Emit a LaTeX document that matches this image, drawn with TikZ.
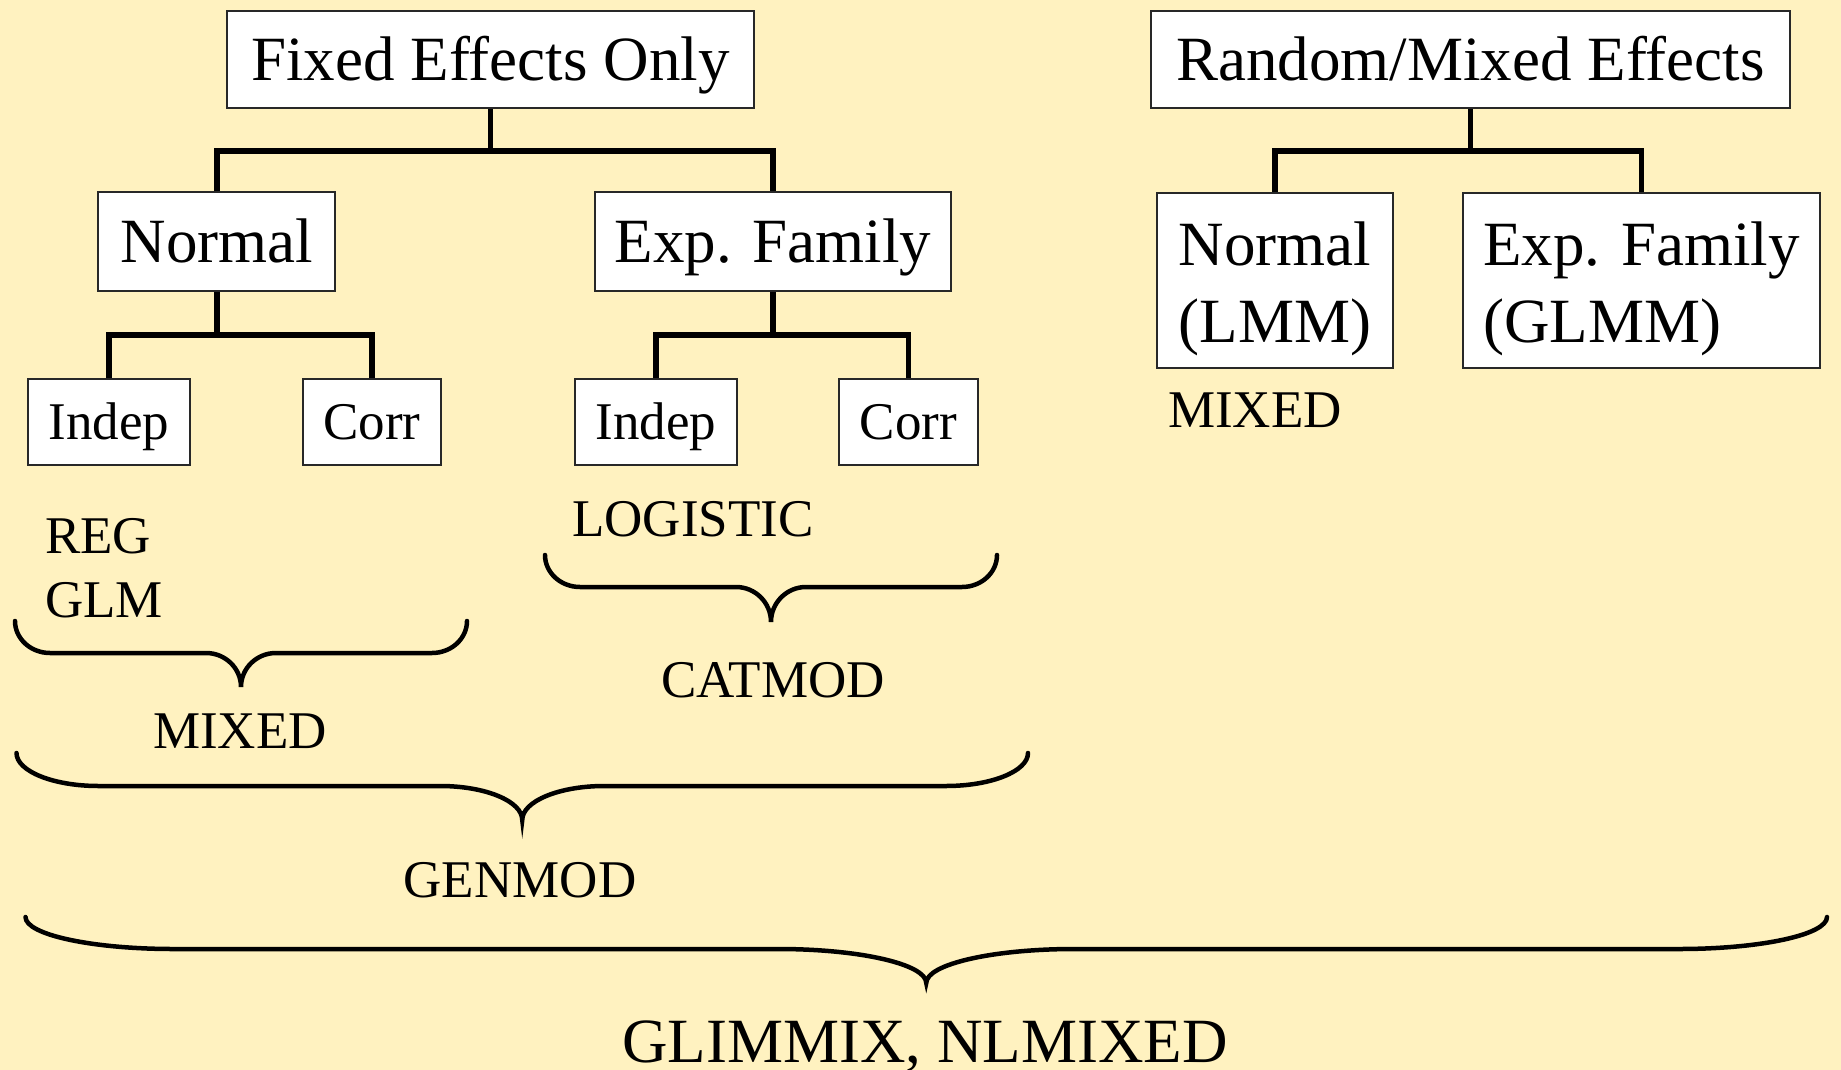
\documentclass[tikz,border=0pt]{standalone}
\usepackage{fontspec}
\setmainfont{Liberation Serif}
\definecolor{bgcol}{RGB}{255,242,192}
\definecolor{boxline}{RGB}{40,40,40}
\newcommand\bigfs{\fontsize{63}{77}\selectfont}
\newcommand\smallfs{\fontsize{53}{64}\selectfont}
% #1 x1, #2 x2, #3 ytop, #4 yh, #5 ytip, #6 curl width
\newcommand\curlybrace[6]{%
  \pgfmathsetmacro\cbxm{(#1+#2)/2}%
  \pgfmathsetmacro\cbk{0.552*#6}%
  \pgfmathsetmacro\cbhk{0.552*(#4-#3)}%
  \pgfmathsetmacro\cbtk{0.552*(#5-#4)}%
  \draw[bracestyle] (#1,#3) .. controls (#1,#3+\cbhk) and (#1+#6-\cbk,#4) .. (#1+#6,#4)
    -- (\cbxm-#6,#4) .. controls (\cbxm-#6+\cbk,#4) and (\cbxm,#5-\cbtk) .. (\cbxm,#5)
    .. controls (\cbxm,#5-\cbtk) and (\cbxm+#6-\cbk,#4) .. (\cbxm+#6,#4)
    -- (#2-#6,#4) .. controls (#2-#6+\cbk,#4) and (#2,#3+\cbhk) .. (#2,#3);
}
\begin{document}
\begin{tikzpicture}[x=1pt,y=-1pt,
  bigbox/.style={draw=boxline, line width=2pt, fill=white, inner sep=0pt, font=\bigfs, text height=42pt, text depth=0pt},
  twobox/.style={draw=boxline, line width=2pt, fill=white, inner sep=0pt, font=\bigfs, align=left, text height=123pt, text depth=0pt},
  smallbox/.style={draw=boxline, line width=2pt, fill=white, inner sep=0pt, font=\smallfs, text height=35pt, text depth=0pt},
  conn/.style={line width=5.5pt, black},
  bracestyle/.style={line width=4.5pt, line cap=round, black},
  lbl/.style={inner sep=0pt, font=\smallfs, anchor=base},
]
\useasboundingbox (0,0) rectangle (1841,1070);
\fill[bgcol] (0,0) rectangle (1841,1070);

% junctions
\coordinate (fj) at (490.5,151);
\coordinate (nj) at (216.75,335);
\coordinate (ej) at (773,335);
\coordinate (rj) at (1470.5,151);

% boxes
\node[bigbox, minimum width=527pt, minimum height=97pt] (fixed) at (490.5,60) {Fixed Effects Only};
\node[bigbox, minimum width=639pt, minimum height=97pt] (random) at (1470.5,60) {Random/Mixed Effects};
\node[bigbox, minimum width=237pt, minimum height=99pt] (normal) at (216.75,241.5) {Normal};
\node[bigbox, minimum width=356pt, minimum height=99pt] (expfam) at (773,241.5) {Exp. Family};
\node[smallbox, minimum width=162pt, minimum height=86pt] (indepa) at (109,422) {Indep};
\node[smallbox, minimum width=138pt, minimum height=86pt] (corra) at (372,422) {Corr};
\node[smallbox, minimum width=162pt, minimum height=86pt] (indepb) at (656,422) {Indep};
\node[smallbox, minimum width=139pt, minimum height=86pt] (corrb) at (908.5,422) {Corr};
\node[twobox, minimum width=236pt, minimum height=175pt] (lmm) at (1275,280.5) {Normal\\(LMM)};
\node[twobox, minimum width=357pt, minimum height=175pt] (glmm) at (1641.5,280.5) {Exp. Family\\(GLMM)};

% connectors
\draw[conn] (fixed.south) -- (fj);
\draw[conn] (normal.north) |- (fj) -| (expfam.north);
\draw[conn] (normal.south) -- (nj);
\draw[conn] (indepa.north) |- (nj) -| (corra.north);
\draw[conn] (expfam.south) -- (ej);
\draw[conn] (indepb.north) |- (ej) -| (corrb.north);
\draw[conn] (random.south) -- (rj);
\draw[conn] (lmm.north) |- (rj) -| (glmm.north);

% labels
\node[lbl, anchor=base west] (reg) at (45,553) {REG};
\node[lbl, anchor=base west] (glm) at (45,617) {GLM};
\node[lbl] (mixedl) at (240,748) {MIXED};
\node[lbl] (logistic) at (693,536) {LOGISTIC};
\node[lbl] (catmod) at (773,697) {CATMOD};
\node[lbl] (genmod) at (520,897) {GENMOD};
\node[lbl, anchor=base west] (mixedr) at (1168,427) {MIXED};
\node[inner sep=0pt, font=\bigfs, anchor=base] (glimmix) at (925,1062) {GLIMMIX, NLMIXED};

% braces
\curlybrace{15}{467}{621}{653}{687}{35}
\curlybrace{545}{997}{555}{587}{622}{35}
\curlybrace{16.5}{1028}{753}{786}{820}{82}
\curlybrace{25.5}{1827}{917}{949}{983}{148}
\end{tikzpicture}
\end{document}
